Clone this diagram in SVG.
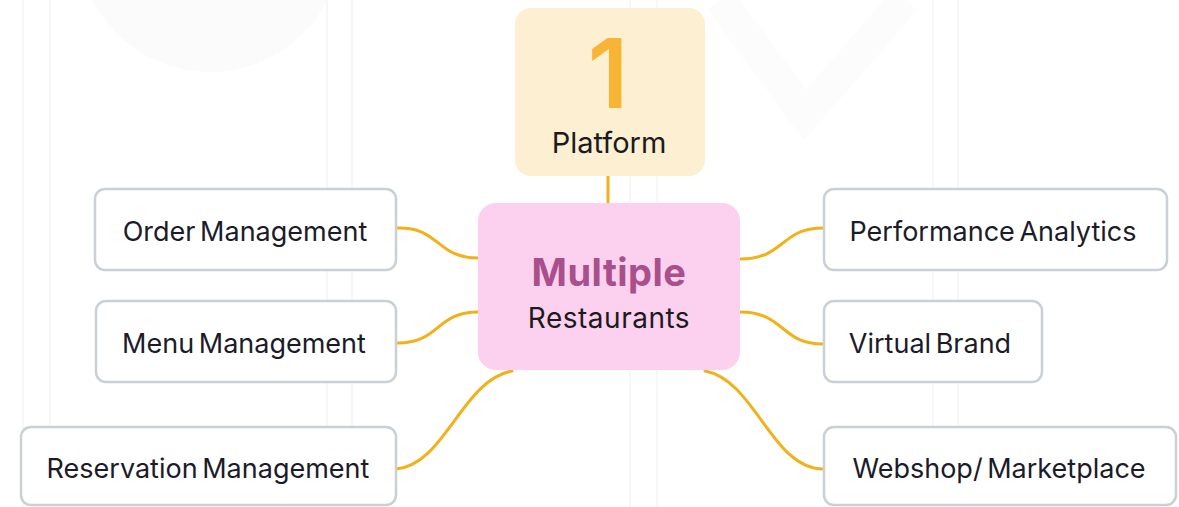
<svg xmlns="http://www.w3.org/2000/svg" width="1179" height="507" viewBox="0 0 1179 507">
<style>
.bg{fill:none;stroke:#f4f5f7;stroke-width:1.5}
.box{fill:#ffffff;stroke:#c9d0d7;stroke-width:2.5}
.lbl{font-family:Inter,"Liberation Sans",sans-serif;font-size:27px;word-spacing:-3px;fill:#1b1b2a}
.con{fill:none;stroke:#f2b11a;stroke-width:3;stroke-linecap:round}
</style>
<rect width="1179" height="507" fill="#ffffff"/>
<g id="background">
<circle cx="210" cy="-60" r="132" fill="#fbfbfc"/>
<path d="M720,0 L805,115 L905,0" fill="none" stroke="#fcfcfd" stroke-width="32"/>
<line class="bg" x1="23" y1="0" x2="23" y2="507"/>
<line class="bg" x1="50" y1="0" x2="50" y2="507"/>
<line class="bg" x1="327" y1="0" x2="327" y2="507"/>
<line class="bg" x1="352" y1="0" x2="352" y2="507"/>
<line class="bg" x1="630" y1="0" x2="630" y2="507"/>
<line class="bg" x1="657" y1="0" x2="657" y2="507"/>
<line class="bg" x1="933" y1="0" x2="933" y2="507"/>
<line class="bg" x1="958" y1="0" x2="958" y2="507"/>
</g>
<g id="connectors">
<path class="con" d="M608,176 L608,203"/>
<path class="con" d="M396,228 C440,226 435,258 478,258"/>
<path class="con" d="M396,343 C440,344 435,312 478,312"/>
<path class="con" d="M396,469 C445,465 462,380 512,371"/>
<path class="con" d="M740,259 C785,259 780,228 823,228"/>
<path class="con" d="M740,312 C785,312 780,344 823,344"/>
<path class="con" d="M705,371 C755,380 772,469 823,469"/>
</g>
<g id="platform">
<rect x="515" y="8" width="190" height="168" rx="16" fill="#fdefd1"/>
<text x="608" y="108" text-anchor="middle" font-family="Inter,'Liberation Sans',sans-serif" font-size="96" font-weight="600" fill="#f8b535">1</text>
<text x="609" y="153" text-anchor="middle" font-family="Inter,'Liberation Sans',sans-serif" font-size="29" fill="#1b1b1b">Platform</text>
</g>
<g id="multiple-restaurants">
<rect x="478" y="203" width="262" height="167" rx="18" fill="#fbd1ef"/>
<text x="609" y="286" text-anchor="middle" font-family="Inter,'Liberation Sans',sans-serif" font-size="38" font-weight="700" letter-spacing="0.5" fill="#a84f8c">Multiple</text>
<text x="609" y="328" text-anchor="middle" font-family="Inter,'Liberation Sans',sans-serif" font-size="28" letter-spacing="0.5" fill="#1b1b1b">Restaurants</text>
</g>
<g id="order-management">
<rect class="box" x="95" y="189" width="301" height="81" rx="10"/>
<text class="lbl" x="245" y="241" text-anchor="middle">Order Management</text>
</g>
<g id="menu-management">
<rect class="box" x="96" y="301" width="300" height="81" rx="10"/>
<text class="lbl" x="244" y="353" text-anchor="middle">Menu Management</text>
</g>
<g id="reservation-management">
<rect class="box" x="21" y="427" width="375" height="78" rx="10"/>
<text class="lbl" x="208" y="478" text-anchor="middle">Reservation Management</text>
</g>
<g id="performance-analytics">
<rect class="box" x="824" y="189" width="343" height="81" rx="10"/>
<text class="lbl" x="993" y="241" text-anchor="middle">Performance Analytics</text>
</g>
<g id="virtual-brand">
<rect class="box" x="824" y="301" width="218" height="81" rx="10"/>
<text class="lbl" x="930" y="353" text-anchor="middle">Virtual Brand</text>
</g>
<g id="webshop-marketplace">
<rect class="box" x="824" y="427" width="352" height="78" rx="10"/>
<text class="lbl" x="999" y="478" text-anchor="middle">Webshop/ Marketplace</text>
</g>
</svg>
